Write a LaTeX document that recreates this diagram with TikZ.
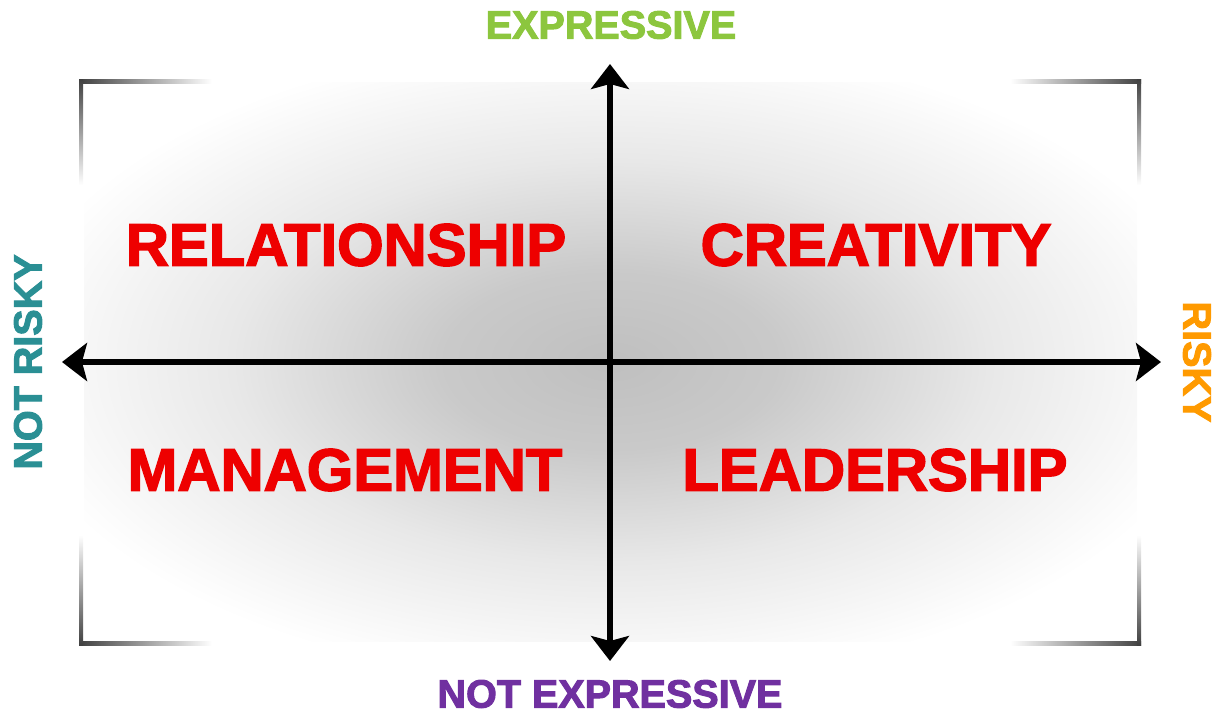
\documentclass[tikz,border=0pt]{standalone}
\usepackage{fontspec}
\usepackage{xcolor}
\usepackage{tikz}
\usetikzlibrary{arrows.meta}
\newfontfamily\heavyfont{Liberation Sans Bold}[FakeBold=2.5]
\definecolor{quadred}{HTML}{EE0000}
\definecolor{exgreen}{HTML}{8CC63E}
\definecolor{expurple}{HTML}{7030A0}
\definecolor{riskteal}{HTML}{2A8F94}
\definecolor{riskorange}{HTML}{FF9A00}
\definecolor{framegray}{HTML}{404040}
\pgfdeclareradialshading{centerglow}{\pgfpoint{0bp}{0bp}}{color(0bp)=(black!25); color(8bp)=(black!21); color(18bp)=(black!9); color(29bp)=(white); color(50bp)=(white)}

\begin{document}
\begin{tikzpicture}[x=0.02cm, y=-0.02cm]
\tikzstyle{quadrant}=[text=quadred, inner sep=0pt, font=\heavyfont\fontsize{34}{36}\selectfont]
\tikzstyle{axislabel}=[inner sep=0pt, font=\heavyfont\fontsize{22.5}{24}\selectfont]
\tikzstyle{axis}=[line width=3.4pt, {Stealth[length=0.5cm, width=0.76cm, inset=0.1cm]}-{Stealth[length=0.5cm, width=0.76cm, inset=0.1cm]}]
\useasboundingbox (0,0) rectangle (1225,717);

\shade[shading=centerglow] (84,82) rectangle (1137,641);

\shade[left color=framegray, right color=white] (79,79) rectangle (212,83);
\shade[top color=framegray, bottom color=white] (79,79) rectangle (83,185);
\shade[left color=framegray, right color=white] (79,641) rectangle (212,645);
\shade[top color=white, bottom color=framegray] (79,535) rectangle (83,645);
\shade[left color=white, right color=framegray] (1010,79) rectangle (1141,83);
\shade[top color=framegray, bottom color=white] (1137,79) rectangle (1141,185);
\shade[left color=white, right color=framegray] (1010,641) rectangle (1141,645);
\shade[top color=white, bottom color=framegray] (1137,535) rectangle (1141,645);

\coordinate (ytop) at (610,64);
\coordinate (ybot) at (610,661);
\coordinate (xleft) at (62,362);
\coordinate (xright) at (1161,362);

\draw[axis] (ybot) -- (ytop);
\draw[axis] (xleft) -- (xright);

\node[quadrant] (relationship) at (346,245) {RELATIONSHIP};
\node[quadrant] (creativity) at (876,245) {CREATIVITY};
\node[quadrant] (management) at (345,470) {MANAGEMENT};
\node[quadrant] (leadership) at (875,470) {LEADERSHIP};

\node[axislabel, text=exgreen] (expressive) at (611,25) {EXPRESSIVE};
\node[axislabel, text=expurple] (notexpressive) at (610,694) {NOT EXPRESSIVE};
\node[axislabel, text=riskteal, rotate=90] (notrisky) at (28,362) {NOT RISKY};
\node[axislabel, text=riskorange, rotate=-90] (risky) at (1197,362) {RISKY};

\end{tikzpicture}
\end{document}
